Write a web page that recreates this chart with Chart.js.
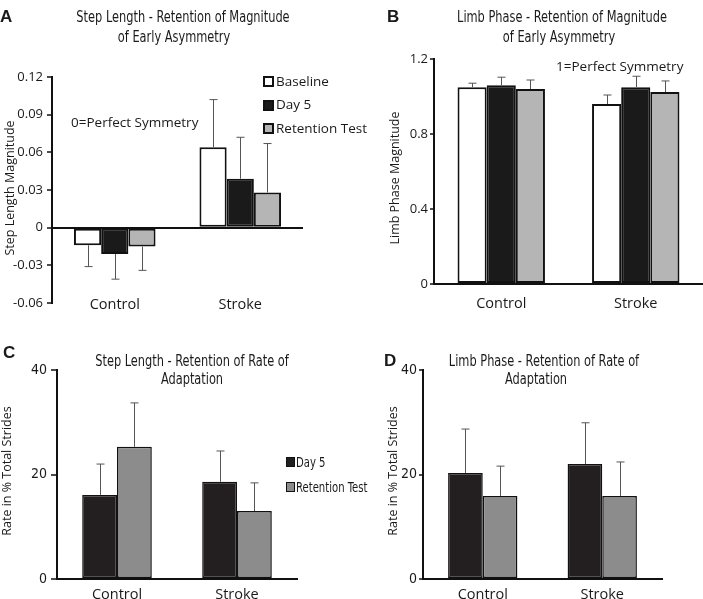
<!DOCTYPE html>
<html>
<head>
<meta charset="utf-8">
<script src="https://cdn.jsdelivr.net/npm/chart.js@4.4.0/dist/chart.umd.min.js"></script>
<style>
  html, body { margin: 0; padding: 0; background: #fff; overflow: hidden; }
  #wrap { position: relative; width: 703px; height: 599px; }
  canvas { position: absolute; }
  .txt { position: absolute; white-space: nowrap; color: #1a1a1a; }
  .ttl { font-family: "DejaVu Sans Condensed", "DejaVu Sans", sans-serif; font-size: 16px; line-height: 16px; transform: translateX(-50%) scaleX(0.79); }
  .let { font-family: "Liberation Sans", Arial, sans-serif; font-weight: bold; font-size: 17px; line-height: 17px; }
  .ann { font-family: "Open Sans", sans-serif; font-size: 13.5px; line-height: 13.5px; }
  .ytl { font-family: "Open Sans", sans-serif; font-size: 12.5px; line-height: 12.5px; transform: translate(-50%, -50%) rotate(-90deg); }
  .lgA { font-family: "Open Sans", sans-serif; font-size: 13.5px; line-height: 14px; }
  .lgC { font-family: "DejaVu Sans Condensed", "DejaVu Sans", sans-serif; font-size: 14px; line-height: 14px; transform: scaleX(0.8); transform-origin: left center; }
  .box { position: absolute; box-sizing: border-box; border: 2px solid #111; }
</style>
</head>
<body>
<div id="wrap">
  <canvas id="chartA" width="370" height="330" style="left:0;top:0"></canvas>
  <canvas id="chartB" width="351" height="330" style="left:352px;top:0"></canvas>
  <canvas id="chartC" width="352" height="299" style="left:0;top:300px"></canvas>
  <canvas id="chartD" width="351" height="299" style="left:352px;top:300px"></canvas>

  <!-- panel letters -->
  <div class="txt let" style="left:0;top:8px">A</div>
  <div class="txt let" style="left:387px;top:8px">B</div>
  <div class="txt let" style="left:3px;top:344px">C</div>
  <div class="txt let" style="left:384px;top:352px">D</div>

  <!-- titles -->
  <div class="txt ttl" style="left:183px;top:9px">Step Length - Retention of Magnitude</div>
  <div class="txt ttl" style="left:174px;top:29px">of Early Asymmetry</div>
  <div class="txt ttl" style="left:562px;top:9px">Limb Phase - Retention of Magnitude</div>
  <div class="txt ttl" style="left:559px;top:29px">of Early Asymmetry</div>
  <div class="txt ttl" style="left:192px;top:353px">Step Length - Retention of Rate of</div>
  <div class="txt ttl" style="left:192px;top:371px">Adaptation</div>
  <div class="txt ttl" style="left:544px;top:353px">Limb Phase - Retention of Rate of</div>
  <div class="txt ttl" style="left:536px;top:371px">Adaptation</div>

  <!-- y axis titles -->
  <div class="txt ytl" style="left:10px;top:188px">Step Length Magnitude</div>
  <div class="txt ytl" style="left:395px;top:178px">Limb Phase Magnitude</div>
  <div class="txt ytl" style="left:7px;top:471px">Rate in % Total Strides</div>
  <div class="txt ytl" style="left:393px;top:471px">Rate in % Total Strides</div>

  <!-- notes -->
  <div class="txt ann" style="left:71px;top:116px">0=Perfect Symmetry</div>
  <div class="txt ann" style="left:556px;top:60px">1=Perfect Symmetry</div>

  <!-- legend A -->
  <div class="box" style="left:263px;top:76px;width:11px;height:11px;background:#fff"></div>
  <div class="txt lgA" style="left:276px;top:74px">Baseline</div>
  <div class="box" style="left:263px;top:100px;width:11px;height:11px;background:#1a1a1a"></div>
  <div class="txt lgA" style="left:276px;top:97px">Day 5</div>
  <div class="box" style="left:263px;top:123px;width:11px;height:11px;background:#b5b5b5"></div>
  <div class="txt lgA" style="left:276px;top:121px">Retention Test</div>

  <!-- legend C -->
  <div class="box" style="left:286px;top:457px;width:9px;height:10px;background:#231f20;border-width:1px"></div>
  <div class="txt lgC" style="left:296px;top:455px">Day 5</div>
  <div class="box" style="left:286px;top:482px;width:9px;height:10px;background:#8c8c8c;border-width:1.5px"></div>
  <div class="txt lgC" style="left:296px;top:480px">Retention Test</div>
</div>

<script>
// categories
let groups = ['Control', 'Stroke'];

/*A - step length magnitude (value, error)*/
let a_baseline = [-0.014, 0.064];
let a_baseline_err = [0.017, 0.038];
let a_day5 = [-0.021, 0.039];
let a_day5_err = [0.020, 0.033];
let a_retention = [-0.015, 0.028];
let a_retention_err = [0.019, 0.039];
let a_ticks = [-0.06, -0.03, 0, 0.03, 0.06, 0.09, 0.12];

/*B - limb phase magnitude*/
let b_baseline = [1.05, 0.96];
let b_baseline_err = [0.021, 0.048];
let b_day5 = [1.06, 1.05];
let b_day5_err = [0.043, 0.058];
let b_retention = [1.04, 1.024];
let b_retention_err = [0.048, 0.059];
let b_ticks = [0, 0.4, 0.8, 1.2];

/*C - step length rate of adaptation*/
let c_day5 = [16.1, 18.6];
let c_day5_err = [5.9, 5.9];
let c_retention = [25.3, 13.0];
let c_retention_err = [8.4, 5.4];

/*D - limb phase rate of adaptation*/
let d_day5 = [20.3, 22.0];
let d_day5_err = [8.4, 7.9];
let d_retention = [15.9, 15.9];
let d_retention_err = [5.7, 6.5];
let rate_ticks = [0, 20, 40];

// one sided error bars, away from zero
const errorBars = {
    id: 'errorBars',
    afterDatasetsDraw(chart) {
        const ctx = chart.ctx;
        const yScale = chart.scales.y;
        chart.data.datasets.forEach((ds, i) => {
            const meta = chart.getDatasetMeta(i);
            meta.data.forEach((bar, j) => {
                const v = ds.data[j];
                const e = ds.err[j];
                const yEnd = yScale.getPixelForValue(v < 0 ? v - e : v + e);
                const x = Math.round(bar.x) + 0.5;
                ctx.save();
                ctx.strokeStyle = '#555';
                ctx.lineWidth = 1;
                ctx.beginPath();
                ctx.moveTo(x, bar.y);
                ctx.lineTo(x, yEnd);
                ctx.moveTo(x - 4, yEnd);
                ctx.lineTo(x + 4, yEnd);
                ctx.stroke();
                ctx.restore();
            });
        });
    }
};

function barSet(data, err, color, bw) {
    return {
        data: data,
        err: err,
        backgroundColor: color,
        borderColor: '#111',
        borderWidth: bw,
        borderSkipped: false,
        barPercentage: 1.0
    };
}

function makeChart(id, datasets, o) {
    let ctx = document.getElementById(id).getContext('2d');
    return new Chart(ctx, {
        type: 'bar',
        data: { labels: groups, datasets: datasets },
        plugins: [errorBars],
        options: {
            responsive: false,
            animation: false,
            devicePixelRatio: 1,
            layout: { padding: o.pad, autoPadding: false },
            plugins: { legend: { display: false }, tooltip: { enabled: false } },
            datasets: { bar: { categoryPercentage: o.catPct } },
            scales: {
                x: {
                    afterFit: s => { s.height = o.xh; },
                    border: { display: o.xBorder, color: '#111', width: 2 },
                    grid: { display: true, drawOnChartArea: false, drawTicks: false },
                    ticks: {
                        mirror: o.xMirror,
                        padding: o.xPad,
                        color: '#1a1a1a',
                        font: { family: 'Open Sans', size: 14.5 }
                    }
                },
                y: {
                    min: o.ticks[0],
                    max: o.ticks[o.ticks.length - 1],
                    afterFit: s => { s.width = o.yw; },
                    afterBuildTicks: s => { s.ticks = o.ticks.map(v => ({ value: v })); },
                    border: { display: true, color: '#111', width: 2 },
                    grid: {
                        drawOnChartArea: o.zeroLine,
                        color: c => (c.tick && c.tick.value === 0 && o.zeroLine) ? '#111' : 'rgba(0,0,0,0)',
                        lineWidth: 2,
                        tickColor: '#111',
                        tickLength: o.tl,
                        tickWidth: 1.5
                    },
                    ticks: {
                        padding: o.yPad,
                        color: '#1a1a1a',
                        font: o.yFont,
                        callback: v => String(v)
                    }
                }
            }
        }
    });
}

/*A*/
makeChart('chartA', [
    barSet(a_baseline, a_baseline_err, '#ffffff', 2),
    barSet(a_day5, a_day5_err, '#1a1a1a', 2),
    barSet(a_retention, a_retention_err, '#b5b5b5', 2)
], {
    pad: { left: 0, top: 77, right: 67, bottom: 0 },
    yw: 52, xh: 27, xPad: -11, xMirror: true, xBorder: false, zeroLine: true,
    catPct: 0.65, ticks: a_ticks, tl: 5, yPad: 4,
    yFont: { family: 'Open Sans', size: 13 }
});

/*B*/
makeChart('chartB', [
    barSet(b_baseline, b_baseline_err, '#ffffff', 2),
    barSet(b_day5, b_day5_err, '#1a1a1a', 2),
    barSet(b_retention, b_retention_err, '#b5b5b5', 2)
], {
    pad: { left: 32, top: 59, right: 0, bottom: 0 },
    yw: 50, xh: 46, xPad: 11, xMirror: false, xBorder: true, zeroLine: false,
    catPct: 0.65, ticks: b_ticks, tl: 4, yPad: 2,
    yFont: { family: 'Open Sans', size: 13 }
});

/*C*/
makeChart('chartC', [
    barSet(c_day5, c_day5_err, '#231f20', 1.5),
    barSet(c_retention, c_retention_err, '#8c8c8c', 1.5)
], {
    pad: { left: 0, top: 70, right: 55, bottom: 0 },
    yw: 57, xh: 20, xPad: 7, xMirror: false, xBorder: true, zeroLine: false,
    catPct: 0.58, ticks: rate_ticks, tl: 6, yPad: 4,
    yFont: { family: 'DejaVu Sans Condensed', size: 14 }
});

/*D*/
makeChart('chartD', [
    barSet(d_day5, d_day5_err, '#231f20', 1.5),
    barSet(d_retention, d_retention_err, '#8c8c8c', 1.5)
], {
    pad: { left: 31, top: 70, right: 41, bottom: 0 },
    yw: 40, xh: 20, xPad: 7, xMirror: false, xBorder: true, zeroLine: false,
    catPct: 0.58, ticks: rate_ticks, tl: 4, yPad: 2,
    yFont: { family: 'DejaVu Sans Condensed', size: 14 }
});
</script>
</body>
</html>
